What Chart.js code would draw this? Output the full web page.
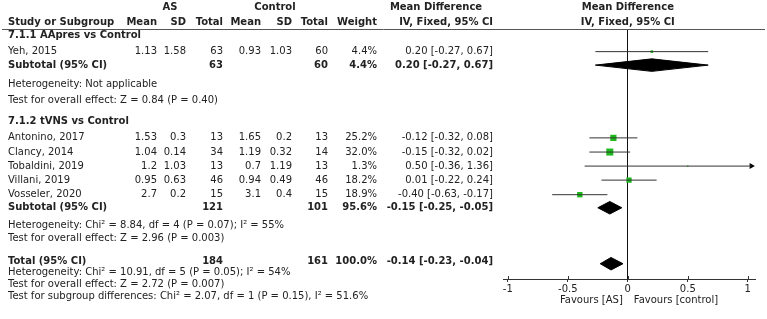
<!DOCTYPE html>
<html>
<head>
<meta charset="utf-8">
<script src="https://cdn.jsdelivr.net/npm/chart.js@4.4.1/dist/chart.umd.min.js"></script>
<style>
  html, body { margin: 0; padding: 0; background: #fff; }
  #wrap { position: relative; width: 767px; height: 319px; }
</style>
</head>
<body>
<div id="wrap"><canvas id="forest"></canvas></div>
<script>
// ---- data ----
const studies = ["Yeh, 2015", "Antonino, 2017", "Clancy, 2014", "Tobaldini, 2019", "Villani, 2019", "Vosseler, 2020"];
const as_mean = [1.13, 1.53, 1.04, 1.2, 0.95, 2.7];
const as_sd = [1.58, 0.3, 0.14, 1.03, 0.63, 0.2];
const as_total = [63, 13, 34, 13, 46, 15];
const ctrl_mean = [0.93, 1.65, 1.19, 0.7, 0.94, 3.1];
const ctrl_sd = [1.03, 0.2, 0.32, 1.19, 0.49, 0.4];
const ctrl_total = [60, 13, 14, 13, 46, 15];
const weights = [4.4, 25.2, 32.0, 1.3, 18.2, 18.9];
const md = [0.20, -0.12, -0.15, 0.50, 0.01, -0.40];
const ci_lo = [-0.27, -0.32, -0.32, -0.36, -0.22, -0.63];
const ci_hi = [0.67, 0.08, 0.02, 1.36, 0.24, -0.17];

const groups = ["7.1.1 AApres vs Control", "7.1.2 tVNS vs Control"];
const group_as_total = [63, 121];
const group_ctrl_total = [60, 101];
const group_weight = [4.4, 95.6];
const group_md = [0.20, -0.15];
const group_lo = [-0.27, -0.25];
const group_hi = [0.67, -0.05];
const group_het = ["Heterogeneity: Not applicable",
                   "Heterogeneity: Chi\u00b2 = 8.84, df = 4 (P = 0.07); I\u00b2 = 55%"];
const group_test = ["Test for overall effect: Z = 0.84 (P = 0.40)",
                    "Test for overall effect: Z = 2.96 (P = 0.003)"];

const total_as = 184;
const total_ctrl = 161;
const total_weight = 100.0;
const total_md = -0.14;
const total_lo = -0.23;
const total_hi = -0.04;
const total_notes = ["Heterogeneity: Chi\u00b2 = 10.91, df = 5 (P = 0.05); I\u00b2 = 54%",
                     "Test for overall effect: Z = 2.72 (P = 0.007)",
                     "Test for subgroup differences: Chi\u00b2 = 2.07, df = 1 (P = 0.15), I\u00b2 = 51.6%"];

const tick_values = [-1, -0.5, 0, 0.5, 1];
const tick_labels = ["-1", "-0.5", "0", "0.5", "1"];

// ---- layout (row units on the hidden y scale) ----
const study_rows = [3.63, 9.84, 10.86, 11.87, 12.88, 13.93];
const group_title_rows = [2.43, 8.65];
const subtotal_rows = [4.6, 14.87];
const het_rows = [5.98, 16.17];
const test_rows = [7.13, 17.11];
const total_row = 18.72;
const total_diamond_row = 18.9;
const total_note_rows = [19.5, 20.36, 21.23];
const head_rows = [0.41, 1.49];

const COL = { name: 8, as_mean: 157, as_sd: 186, as_total: 223, c_mean: 261, c_sd: 292,
              c_total: 328, weight: 377, md: 493 };
const X_MIN = -1.04, X_MAX = 1.06, ARROW_X = 1.03;
const DIAMOND_HALF = 0.45;
const TEXT = '#222';
const FONT = '"DejaVu Sans", Verdana, sans-serif';

const fmt2 = (v) => v.toFixed(2);
const ciText = (m, lo, hi) => fmt2(m) + " [" + fmt2(lo) + ", " + fmt2(hi) + "]";

// ---- datasets ----
let datasets = [];

// confidence interval lines
for (let i = 0; i < studies.length; i ++) {
    datasets.push({
        data: [{x: ci_lo[i], y: study_rows[i]}, {x: Math.min(ci_hi[i], ARROW_X), y: study_rows[i]}],
        showLine: true,
        borderColor: '#333',
        borderWidth: 1,
        pointRadius: 0
    });
}

// arrow heads where the interval runs off the axis
let arrows = [];
for (let i = 0; i < studies.length; i ++) {
    if (ci_hi[i] > ARROW_X) arrows.push({x: ARROW_X, y: study_rows[i]});
}
datasets.push({
    data: arrows,
    pointStyle: 'triangle',
    rotation: 90,
    pointRadius: 3.5,
    backgroundColor: '#000',
    borderColor: '#000',
    borderWidth: 0
});

// study squares sized by weight
datasets.push({
    data: md.map((m, i) => ({x: m, y: study_rows[i]})),
    pointStyle: 'rect',
    pointRadius: weights.map(w => Math.sqrt(w) * 1.24 / 1.414),
    backgroundColor: '#1cb81c',
    borderWidth: 0
});

// pooled diamonds
function diamond(m, lo, hi, row) {
    return {
        data: [{x: lo, y: row}, {x: m, y: row - DIAMOND_HALF}, {x: hi, y: row},
               {x: m, y: row + DIAMOND_HALF}, {x: lo, y: row}],
        showLine: true,
        fill: 'shape',
        tension: 0,
        backgroundColor: '#000',
        borderColor: '#000',
        borderWidth: 1,
        pointRadius: 0
    };
}
for (let g = 0; g < groups.length; g ++) {
    datasets.push(diamond(group_md[g], group_lo[g], group_hi[g], subtotal_rows[g]));
}
datasets.push(diamond(total_md, total_lo, total_hi, total_diamond_row));

// ---- table text ----
const tablePlugin = {
    id: 'forestTable',
    afterDraw(chart) {
        const ctx = chart.ctx;
        const ys = chart.scales.y;
        const xs = chart.scales.x;
        const area = chart.chartArea;

        function put(txt, px, row, align, bold) {
            ctx.font = (bold ? 'bold ' : '') + '10px ' + FONT;
            ctx.textAlign = align;
            ctx.fillText(txt, px, ys.getPixelForValue(row));
        }

        ctx.save();
        ctx.fillStyle = TEXT;
        ctx.textBaseline = 'middle';

        // header rule
        ctx.strokeStyle = '#555';
        ctx.lineWidth = 1;
        ctx.beginPath();
        ctx.moveTo(2, area.top + 0.5);
        ctx.lineTo(765, area.top + 0.5);
        ctx.stroke();

        // small tick marks above the axis line (ticks cross the axis)
        ctx.strokeStyle = '#333';
        ctx.beginPath();
        for (let k = 0; k < tick_values.length; k ++) {
            const tx = Math.round(xs.getPixelForValue(tick_values[k])) + 0.5;
            ctx.moveTo(tx, area.bottom - 3);
            ctx.lineTo(tx, area.bottom);
        }
        ctx.stroke();

        // headers
        const zero = xs.getPixelForValue(0);
        put("AS", 170, head_rows[0], 'center', true);
        put("Control", 275, head_rows[0], 'center', true);
        put("Mean Difference", 436, head_rows[0], 'center', true);
        put("Mean Difference", zero, head_rows[0], 'center', true);
        put("Study or Subgroup", COL.name, head_rows[1], 'left', true);
        put("Mean", COL.as_mean, head_rows[1], 'right', true);
        put("SD", COL.as_sd, head_rows[1], 'right', true);
        put("Total", COL.as_total, head_rows[1], 'right', true);
        put("Mean", COL.c_mean, head_rows[1], 'right', true);
        put("SD", COL.c_sd, head_rows[1], 'right', true);
        put("Total", COL.c_total, head_rows[1], 'right', true);
        put("Weight", COL.weight, head_rows[1], 'right', true);
        put("IV, Fixed, 95% CI", COL.md, head_rows[1], 'right', true);
        put("IV, Fixed, 95% CI", zero, head_rows[1], 'center', true);

        // study rows
        for (let i = 0; i < studies.length; i ++) {
            const r = study_rows[i];
            put(studies[i], COL.name, r, 'left', false);
            put(String(as_mean[i]), COL.as_mean, r, 'right', false);
            put(String(as_sd[i]), COL.as_sd, r, 'right', false);
            put(String(as_total[i]), COL.as_total, r, 'right', false);
            put(String(ctrl_mean[i]), COL.c_mean, r, 'right', false);
            put(String(ctrl_sd[i]), COL.c_sd, r, 'right', false);
            put(String(ctrl_total[i]), COL.c_total, r, 'right', false);
            put(weights[i].toFixed(1) + "%", COL.weight, r, 'right', false);
            put(ciText(md[i], ci_lo[i], ci_hi[i]), COL.md, r, 'right', false);
        }

        // subgroups
        for (let g = 0; g < groups.length; g ++) {
            put(groups[g], COL.name, group_title_rows[g], 'left', true);
            const r = subtotal_rows[g];
            put("Subtotal (95% CI)", COL.name, r, 'left', true);
            put(String(group_as_total[g]), COL.as_total, r, 'right', true);
            put(String(group_ctrl_total[g]), COL.c_total, r, 'right', true);
            put(group_weight[g].toFixed(1) + "%", COL.weight, r, 'right', true);
            put(ciText(group_md[g], group_lo[g], group_hi[g]), COL.md, r, 'right', true);
            put(group_het[g], COL.name, het_rows[g], 'left', false);
            put(group_test[g], COL.name, test_rows[g], 'left', false);
        }

        // overall
        put("Total (95% CI)", COL.name, total_row, 'left', true);
        put(String(total_as), COL.as_total, total_row, 'right', true);
        put(String(total_ctrl), COL.c_total, total_row, 'right', true);
        put(total_weight.toFixed(1) + "%", COL.weight, total_row, 'right', true);
        put(ciText(total_md, total_lo, total_hi), COL.md, total_row, 'right', true);
        for (let k = 0; k < total_notes.length; k ++) {
            put(total_notes[k], COL.name, total_note_rows[k], 'left', false);
        }

        // favours labels under the axis
        ctx.font = '10px ' + FONT;
        ctx.textAlign = 'right';
        ctx.fillText("Favours [AS]", zero - 5, area.bottom + 21);
        ctx.textAlign = 'left';
        ctx.fillText("Favours [control]", zero + 6, area.bottom + 21);

        ctx.restore();
    }
};

const config = {
    type: 'scatter',
    data: { datasets: datasets },
    options: {
        responsive: false,
        animation: false,
        events: [],
        layout: {
            padding: { left: 503, right: 12, top: 29, bottom: 23 }
        },
        plugins: {
            legend: { display: false },
            tooltip: { enabled: false }
        },
        scales: {
            x: {
                type: 'linear',
                min: X_MIN,
                max: X_MAX,
                afterBuildTicks: (scale) => {
                    scale.ticks = tick_values.map(v => ({ value: v }));
                },
                ticks: {
                    color: TEXT,
                    padding: 1,
                    font: { family: FONT, size: 10 },
                    callback: (value) => tick_labels[tick_values.indexOf(value)]
                },
                grid: {
                    color: (c) => (c.tick && c.tick.value === 0) ? '#111' : 'rgba(0,0,0,0)',
                    tickColor: '#333',
                    tickLength: 3,
                    lineWidth: 1
                },
                border: { display: true, color: '#333', width: 1 }
            },
            y: {
                type: 'linear',
                reverse: true,
                min: 2,
                max: 20,
                display: false
            }
        }
    },
    plugins: [tablePlugin]
};

const canvas = document.getElementById("forest");
canvas.width = 767;
canvas.height = 319;
new Chart(canvas.getContext('2d'), config);
</script>
</body>
</html>
